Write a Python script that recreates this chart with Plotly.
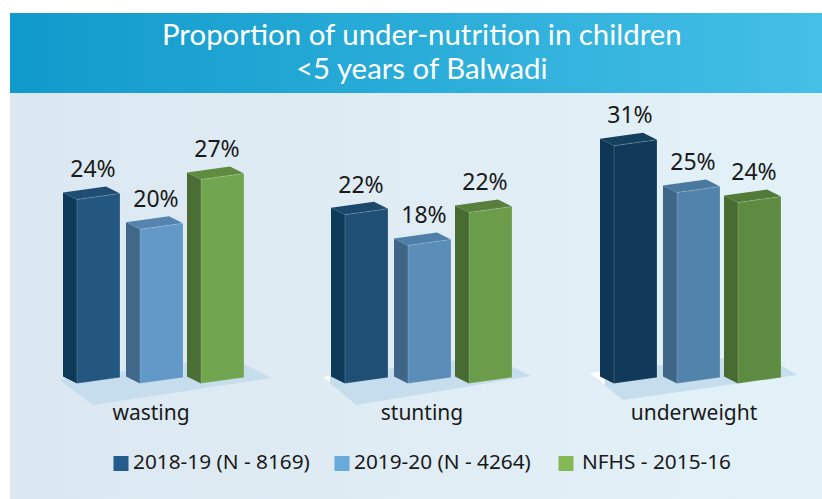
import plotly.graph_objects as go

title_lines = ["Proportion of under-nutrition in children", "<5 years of Balwadi"]
categories = ["wasting", "stunting", "underweight"]
series_names = ["2018-19 (N - 8169)", "2019-20 (N - 4264)", "NFHS - 2015-16"]
# bar heights as measured, the printed labels are the rounded figures
values_2018 = [24.0, 22.0, 31.0]
values_2019 = [20.1, 18.0, 24.9]
values_nfhs = [26.6, 22.3, 23.6]

W, H = 822, 499
PX = 7.67         # pixels for one percent
BASE = 383.5      # pixel row of value 0
FONT = "Noto Sans"
INK = "#1A1A1A"

# front, side, top colours for each bar in each group
colors = [
    [("#23577F", "#103A5A", "#1E4C72"), ("#6299C8", "#416889", "#5484AE"), ("#72A550", "#4A6E33", "#5F8B40")],
    [("#1F4F75", "#103A5A", "#1C486C"), ("#5A8DB8", "#3F6687", "#4E7FA8"), ("#6A9C4A", "#476B30", "#587F3C")],
    [("#113A5A", "#0F3654", "#14405F"), ("#5283AB", "#3F6687", "#4A789F"), ("#5E8B42", "#476B30", "#527A38")],
]
legend_colors = ["#245D8C", "#6AA9DC", "#84B956"]

group_x = [77, 345, 614]
bar_offset = [0, 63, 124]
label_offset = [74, 77, 80]
legend_x = [114, 335, 559]
legend_text_gap = [19, 19, 23]

# floor corners relative to the group origin: left, front, right, back
floors = [
    [(-18, -3.5), (16, 21.5), (194, -5.5), (153, -27)],
    [(-22, -6.5), (11, 21.5), (186, -7.5), (145, -27.5)],
    [(-25, -10.5), (9, 16.5), (183, -8.5), (148, -29.5)],
]
# white sliver where the floor tip sticks out of the tint
wedges = [
    None,
    [(-22, -6.5), (-15, -8), (-15, -1)],
    [(-25, -10.5), (-9, -12.5), (-9, 1.5)],
]


def py(px):
    # pixel row to axis value
    return (BASE - px) / PX


def poly(xs, ys, color, line=None):
    return go.Scatter(
        x=xs + xs[:1], y=ys + ys[:1], mode="lines", fill="toself", fillcolor=color,
        line=dict(color=line or color, width=0.7 if line else 0),
        hoverinfo="skip", showlegend=False,
    )


fig = go.Figure()

# panel and header band
fig.add_trace(go.Scatter(
    x=[10, W, W, 10, 10], y=[py(93), py(93), py(H), py(H), py(93)], mode="lines", fill="toself",
    line=dict(width=0), hoverinfo="skip", showlegend=False,
    fillgradient=dict(type="horizontal", colorscale=[[0, "#DCE8F1"], [1, "#E3F1F8"]]),
))
fig.add_trace(go.Scatter(
    x=[10, W, W, 10, 10], y=[py(13), py(13), py(93), py(93), py(13)], mode="lines", fill="toself",
    line=dict(width=0), hoverinfo="skip", showlegend=False,
    fillgradient=dict(type="horizontal", colorscale=[[0, "#109ACB"], [1, "#44BFE6"]]),
))

for g, gx in enumerate(group_x):
    # floor under the group
    fig.add_trace(poly(
        [gx + c[0] for c in floors[g]],
        [py(BASE + c[1]) for c in floors[g]],
        "#C6DDED",
    ))
    if wedges[g]:
        fig.add_trace(poly(
            [gx + c[0] for c in wedges[g]],
            [py(BASE + c[1]) for c in wedges[g]],
            "#FFFFFF",
        ))

    for s, vals in enumerate([values_2018, values_2019, values_nfhs]):
        v = vals[g]
        x0 = gx + bar_offset[s]
        front, side, top = colors[g][s]
        dx, dy = 14, 7        # depth
        bw, sh = 43, 6        # front width and shear
        # side face
        fig.add_trace(poly(
            [x0 - dx, x0, x0, x0 - dx],
            [v + dy / PX, v, 0, dy / PX],
            side,
        ))
        # top face
        fig.add_trace(poly(
            [x0 - dx, x0, x0 + bw, x0 + bw - dx],
            [v + dy / PX, v, v + sh / PX, v + (sh + dy) / PX],
            top,
        ))
        # front face
        fig.add_trace(poly(
            [x0, x0 + bw, x0 + bw, x0],
            [v, v + sh / PX, sh / PX, 0],
            front, line="rgba(255,255,255,0.25)",
        ))
        # value label
        fig.add_trace(go.Scatter(
            x=[x0 + 16], y=[v + 28 / PX], mode="text", text=[f"{v:.0f}%"],
            textposition="middle center", textfont=dict(family=FONT, size=23, color=INK),
            hoverinfo="skip", showlegend=False,
        ))

# category names
fig.add_trace(go.Scatter(
    x=[gx + off for gx, off in zip(group_x, label_offset)],
    y=[py(414.5)] * len(categories),
    mode="text", text=categories, textposition="middle center",
    textfont=dict(family=FONT, size=21, color=INK),
    hoverinfo="skip", showlegend=False,
))

# legend row, spaced by hand since the built in one keeps a wide gap after the swatch
for name, col, lx, gap in zip(series_names, legend_colors, legend_x, legend_text_gap):
    fig.add_trace(go.Scatter(
        x=[lx + 7], y=[py(463.5)], mode="markers", name=name,
        marker=dict(symbol="square", size=15, color=col, line=dict(width=0)),
        hoverinfo="skip", showlegend=False,
    ))
    fig.add_trace(go.Scatter(
        x=[lx + gap], y=[py(464)], mode="text", text=[name], textposition="middle right",
        textfont=dict(family=FONT, size=20.8, color=INK),
        hoverinfo="skip", showlegend=False,
    ))

# title lines, closer together than plotly's line height
for line, row in zip(title_lines, [33.5, 67]):
    fig.add_annotation(
        x=422, y=py(row), text=line.replace("<", "&lt;"), showarrow=False,
        xanchor="center", yanchor="middle",
        font=dict(family="Lato", size=29.4, color="white"),
    )

fig.update_layout(
    width=W,
    height=H,
    autosize=False,
    margin=dict(l=0, r=0, t=0, b=0),
    paper_bgcolor="white",
    plot_bgcolor="white",
    showlegend=False,
    xaxis=dict(range=[0, W], visible=False, fixedrange=True),
    yaxis=dict(range=[py(H), py(0)], visible=False, fixedrange=True),
)

fig.write_html(
    "out.html",
    config=dict(displayModeBar=False),
    post_script="document.body.style.margin='0';",
)
